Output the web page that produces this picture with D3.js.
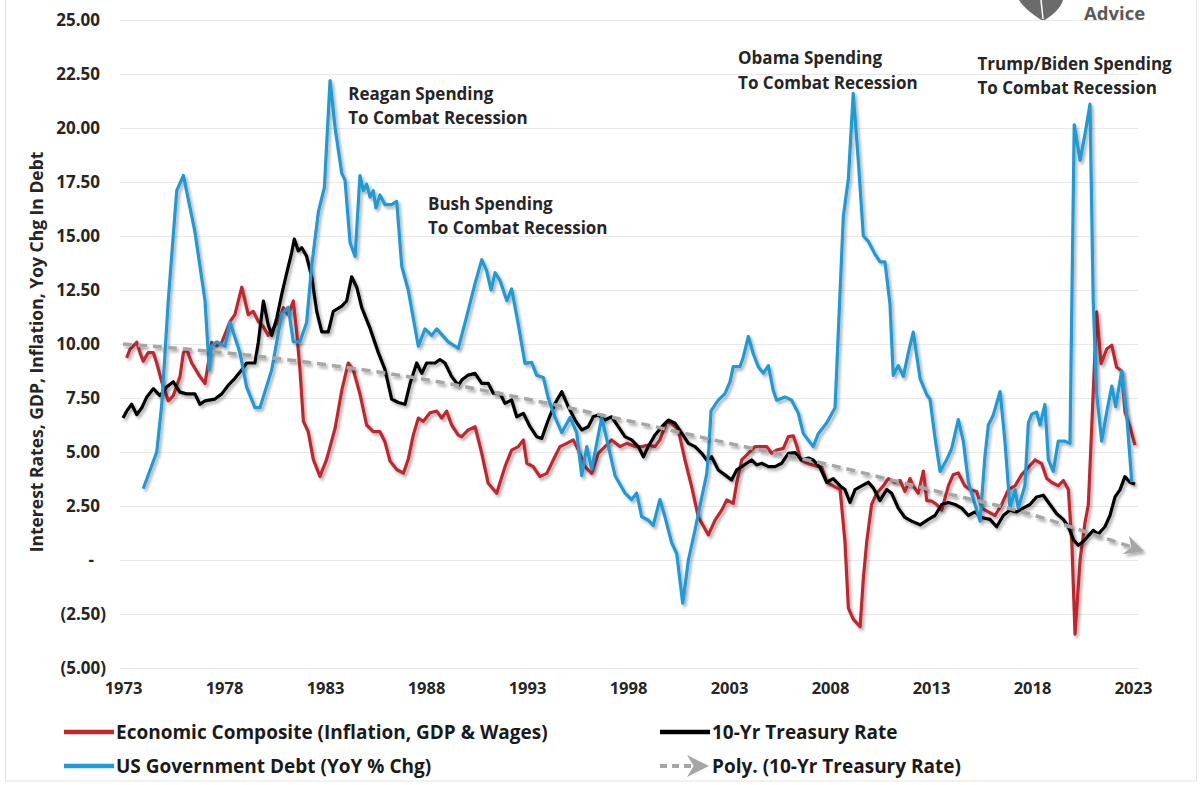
<!DOCTYPE html>
<html>
<head>
<meta charset="utf-8">
<script src="https://cdn.jsdelivr.net/npm/d3@7"></script>
<style>
  body { margin: 0; background: #fff; }
  text { font-family: "Open Sans", "Noto Sans", sans-serif; font-weight: 700; }
</style>
</head>
<body>
<svg id="chart" width="1203" height="785"></svg>
<script>
// tick values
var yearTicks = [1973, 1978, 1983, 1988, 1993, 1998, 2003, 2008, 2013, 2018, 2023];
var valueTicks = [-5, -2.5, 0, 2.5, 5, 7.5, 10, 12.5, 15, 17.5, 20, 22.5, 25];

// Economic Composite (Inflation, GDP & Wages) - [year, value]
var compositeData = [
  [1973.18,9.36],[1973.35,9.76],[1973.68,10.08],[1973.84,9.6],[1974.0,9.2],[1974.25,9.6],[1974.5,9.6],[1974.67,9.12],
  [1974.92,8.25],[1975.24,7.37],[1975.49,7.61],[1975.82,8.49],[1975.99,9.6],[1976.15,9.76],[1976.4,9.12],[1976.81,8.49],
  [1977.06,8.17],[1977.39,10.08],[1977.64,9.92],[1977.89,10.08],[1978.3,11.04],[1978.54,11.36],[1978.88,12.63],[1979.2,11.36],
  [1979.45,11.51],[1979.7,11.04],[1979.95,10.8],[1980.19,10.4],[1980.44,10.72],[1980.69,11.04],[1980.94,11.68],[1981.18,11.36],
  [1981.43,11.99],[1981.6,10.56],[1981.76,8.81],[1981.93,6.42],[1982.17,5.94],[1982.42,4.66],[1982.75,3.87],[1983.08,4.66],
  [1983.5,6.1],[1983.83,7.85],[1984.15,9.12],[1984.4,8.81],[1984.73,7.69],[1985.06,6.25],[1985.39,5.94],[1985.72,5.94],
  [1985.97,5.46],[1986.22,4.58],[1986.55,4.19],[1986.88,4.02],[1987.12,4.66],[1987.37,5.78],[1987.62,6.57],[1987.87,6.42],
  [1988.2,6.82],[1988.53,6.89],[1988.78,6.57],[1989.02,6.89],[1989.27,6.25],[1989.6,5.78],[1989.77,5.71],[1990.09,6.02],
  [1990.43,6.17],[1990.76,4.94],[1991.08,3.55],[1991.5,3.09],[1991.91,4.32],[1992.24,5.09],[1992.57,5.25],[1992.82,5.56],
  [1992.99,4.48],[1993.31,4.32],[1993.64,3.86],[1993.98,4.01],[1994.3,4.63],[1994.63,5.25],[1994.97,5.4],[1995.29,5.56],
  [1995.54,5.09],[1995.87,4.32],[1996.2,4.01],[1996.53,4.94],[1996.86,5.25],[1997.19,5.56],[1997.6,5.25],[1997.94,5.4],
  [1998.35,5.25],[1998.68,5.25],[1999.0,5.32],[1999.34,5.25],[1999.58,5.56],[1999.92,6.4],[2000.16,6.33],[2000.49,6.02],
  [2000.82,4.63],[2001.15,3.4],[2001.48,2.0],[2001.98,1.16],[2002.31,1.85],[2002.64,2.31],[2002.89,2.78],[2003.21,2.62],
  [2003.38,3.55],[2003.63,4.63],[2003.96,4.94],[2004.29,5.25],[2004.87,5.25],[2005.11,4.94],[2005.36,5.09],[2005.69,5.17],
  [2005.94,5.71],[2006.18,5.75],[2006.35,5.3],[2006.55,4.63],[2006.93,4.46],[2007.26,4.37],[2007.59,4.29],[2007.84,3.6],
  [2008.16,3.43],[2008.5,3.26],[2008.74,0.86],[2008.91,-2.23],[2009.15,-2.74],[2009.49,-3.09],[2009.65,-0.86],[2009.82,0.86],
  [2010.06,2.57],[2010.31,3.09],[2010.64,3.43],[2010.89,3.77],[2011.22,3.6],[2011.47,3.68],[2011.71,3.17],[2011.96,3.77],
  [2012.12,3.43],[2012.37,3.09],[2012.62,4.12],[2012.79,2.75],[2013.03,2.73],[2013.28,2.57],[2013.53,2.31],[2013.86,3.43],
  [2014.1,3.95],[2014.35,4.03],[2014.68,3.43],[2014.93,3.26],[2015.26,3.17],[2015.51,2.4],[2015.84,2.23],[2016.17,2.06],
  [2016.5,2.57],[2016.83,3.26],[2017.16,3.43],[2017.49,3.95],[2017.82,4.29],[2018.15,4.63],[2018.48,4.46],[2018.73,3.77],
  [2018.97,3.6],[2019.3,3.43],[2019.55,3.68],[2019.8,3.26],[2019.97,0.86],[2020.13,-3.43],[2020.38,0.0],[2020.62,1.71],
  [2020.79,2.57],[2021.03,7.72],[2021.2,11.49],[2021.42,9.09],[2021.7,9.77],[2021.95,9.94],[2022.19,8.92],[2022.44,8.75],
  [2022.6,6.86],[2022.85,6.17],[2023.1,5.32]
];

// 10-Yr Treasury Rate - [year, value]
var treasuryData = [
  [1973.0,6.57],[1973.18,6.89],[1973.43,7.21],[1973.68,6.73],[1973.93,7.05],[1974.17,7.53],[1974.5,7.93],[1974.83,7.61],
  [1975.16,8.01],[1975.49,8.25],[1975.82,7.77],[1976.15,7.69],[1976.56,7.69],[1976.81,7.21],[1977.06,7.37],[1977.55,7.45],
  [1977.89,7.69],[1978.21,8.09],[1978.54,8.41],[1978.88,8.81],[1979.12,9.12],[1979.53,9.12],[1979.7,10.08],[1979.95,11.99],
  [1980.19,10.88],[1980.36,10.4],[1980.61,11.2],[1980.86,12.31],[1981.1,13.27],[1981.35,14.23],[1981.48,14.86],[1981.68,14.31],
  [1981.85,14.46],[1982.09,14.06],[1982.34,13.11],[1982.59,11.51],[1982.84,10.56],[1983.16,10.56],[1983.41,11.51],[1983.83,11.75],
  [1984.07,11.99],[1984.32,13.11],[1984.57,12.63],[1984.82,11.68],[1985.23,10.72],[1985.64,9.6],[1985.97,8.81],[1986.3,7.45],
  [1986.63,7.29],[1986.96,7.21],[1987.21,8.17],[1987.54,9.12],[1987.79,8.64],[1988.03,9.12],[1988.45,9.12],[1988.69,9.28],
  [1988.94,9.12],[1989.27,8.49],[1989.6,8.09],[1989.77,8.33],[1990.09,8.56],[1990.43,8.64],[1990.76,8.18],[1991.08,8.18],
  [1991.33,7.72],[1991.66,7.72],[1991.91,7.25],[1992.24,7.41],[1992.49,6.63],[1992.82,6.79],[1993.15,6.17],[1993.48,5.71],
  [1993.73,5.63],[1994.05,6.48],[1994.39,7.25],[1994.72,7.79],[1995.04,7.1],[1995.38,6.48],[1995.71,6.02],[1996.03,6.17],
  [1996.28,6.63],[1996.53,6.71],[1996.86,6.48],[1997.19,6.63],[1997.52,6.17],[1997.85,5.71],[1998.18,5.56],[1998.51,5.25],
  [1998.76,4.78],[1999.0,5.25],[1999.34,5.79],[1999.67,6.17],[2000.0,6.48],[2000.33,6.33],[2000.66,5.87],[2000.99,5.4],
  [2001.32,5.25],[2001.65,4.94],[2001.9,4.63],[2002.14,4.78],[2002.47,4.17],[2002.8,3.94],[2003.13,3.7],[2003.38,4.17],
  [2003.63,4.32],[2004.12,4.63],[2004.37,4.4],[2004.62,4.48],[2004.95,4.32],[2005.28,4.32],[2005.61,4.48],[2005.94,4.94],
  [2006.27,4.97],[2006.6,4.63],[2006.93,4.72],[2007.17,4.63],[2007.5,4.29],[2007.84,3.6],[2008.16,3.77],[2008.5,3.43],
  [2008.74,3.26],[2008.99,2.66],[2009.24,3.26],[2009.57,3.43],[2009.9,3.6],[2010.14,3.34],[2010.47,2.75],[2010.81,3.26],
  [2011.05,3.09],[2011.38,2.4],[2011.71,1.97],[2012.04,1.8],[2012.46,1.63],[2012.87,1.88],[2013.2,2.06],[2013.53,2.57],
  [2013.86,2.66],[2014.19,2.57],[2014.52,2.4],[2014.85,2.06],[2015.18,2.23],[2015.51,1.97],[2015.92,1.88],[2016.25,1.54],
  [2016.58,2.06],[2016.91,2.31],[2017.24,2.23],[2017.57,2.4],[2017.9,2.57],[2018.23,2.92],[2018.56,3.0],[2018.89,2.57],
  [2019.22,2.14],[2019.55,1.88],[2019.8,1.54],[2020.05,0.94],[2020.29,0.68],[2020.54,0.86],[2020.79,1.12],[2021.03,1.37],
  [2021.28,1.2],[2021.61,1.54],[2021.86,2.06],[2022.11,2.92],[2022.36,3.26],[2022.6,3.86],[2022.85,3.6],[2023.1,3.51]
];

// US Government Debt (YoY % Chg) - [year, value]
var debtData = [
  [1974.0,3.3],[1974.67,5.0],[1974.92,7.2],[1975.24,12.0],[1975.66,17.1],[1975.99,17.8],[1976.56,15.2],[1977.06,12.0],
  [1977.27,8.8],[1977.39,9.9],[1977.64,10.1],[1978.05,9.9],[1978.3,11.0],[1978.79,9.6],[1979.12,8.0],[1979.53,7.05],
  [1979.78,7.05],[1980.36,8.8],[1980.86,11.4],[1981.18,11.7],[1981.43,10.1],[1981.76,10.1],[1982.09,11.0],[1982.34,13.6],
  [1982.67,16.1],[1982.97,17.25],[1983.25,22.2],[1983.5,20.0],[1983.83,17.9],[1983.99,17.6],[1984.24,14.7],[1984.49,14.05],
  [1984.73,17.8],[1984.9,17.1],[1985.06,17.4],[1985.23,16.8],[1985.39,17.1],[1985.52,16.3],[1985.72,16.9],[1985.97,16.45],
  [1986.3,16.45],[1986.55,16.6],[1986.8,13.6],[1987.12,12.5],[1987.62,9.9],[1987.95,10.7],[1988.28,10.4],[1988.53,10.7],
  [1989.1,10.1],[1989.6,9.8],[1990.02,11.3],[1990.43,12.8],[1990.76,13.9],[1991.0,13.4],[1991.22,12.5],[1991.42,13.3],
  [1991.66,12.95],[1992.0,12.0],[1992.24,12.55],[1992.57,10.9],[1992.9,9.1],[1993.23,9.15],[1993.48,8.55],[1993.81,8.45],
  [1994.05,7.5],[1994.39,6.6],[1994.72,5.9],[1995.13,6.6],[1995.46,5.9],[1995.71,3.9],[1995.96,5.25],[1996.2,4.2],
  [1996.7,6.6],[1997.02,5.3],[1997.36,3.9],[1997.85,3.1],[1998.18,2.8],[1998.43,3.1],[1998.68,2.0],[1999.0,1.85],
  [1999.25,1.6],[1999.58,2.8],[1999.83,2.0],[2000.16,0.8],[2000.41,0.3],[2000.71,-2.0],[2000.99,0.0],[2001.32,1.4],
  [2001.65,2.9],[2001.9,4.0],[2002.01,5.25],[2002.11,6.9],[2002.47,7.4],[2002.8,7.7],[2003.05,8.25],[2003.21,8.95],
  [2003.54,8.95],[2003.71,9.4],[2003.96,10.35],[2004.2,9.55],[2004.45,8.95],[2004.7,8.65],[2004.95,9.0],[2005.19,7.85],
  [2005.36,7.4],[2005.77,7.55],[2006.1,7.4],[2006.43,6.8],[2006.68,5.85],[2007.17,5.25],[2007.42,5.85],[2007.84,6.35],
  [2008.25,7.05],[2008.66,15.9],[2008.91,17.65],[2009.15,21.6],[2009.4,18.5],[2009.65,15.0],[2009.9,14.75],[2010.23,14.15],
  [2010.48,13.8],[2010.72,13.8],[2010.97,11.85],[2011.13,8.55],[2011.38,9.0],[2011.63,8.5],[2011.88,9.6],[2012.12,10.55],
  [2012.46,8.4],[2012.79,7.65],[2012.95,7.45],[2013.2,5.65],[2013.45,4.1],[2013.78,4.65],[2014.02,5.15],[2014.35,6.5],
  [2014.6,5.5],[2014.85,3.6],[2015.09,2.85],[2015.43,1.8],[2015.67,4.8],[2015.84,6.25],[2016.08,6.7],[2016.42,7.8],
  [2016.66,5.5],[2016.91,2.4],[2017.16,3.25],[2017.32,2.4],[2017.65,3.45],[2017.82,6.35],[2017.99,6.75],[2018.23,6.85],
  [2018.4,6.25],[2018.64,7.2],[2018.81,4.65],[2019.05,4.1],[2019.3,5.5],[2019.63,5.5],[2019.88,5.4],[2020.09,20.15],
  [2020.38,18.5],[2020.62,19.7],[2020.87,21.1],[2021.03,12.0],[2021.2,7.7],[2021.45,5.5],[2021.7,6.85],[2021.95,8.05],
  [2022.14,7.1],[2022.44,8.75],[2022.69,6.7],[2022.94,3.6]
];

// Poly. (10-Yr Treasury Rate) trend line
var trendData = [
  [1973,10.0],[1978,9.6],[1983,9.05],[1988,8.35],[1993,7.45],[1998,6.45],[2003,5.4],
  [2008,4.4],[2013,3.25],[2018,2.1],[2021,1.2],[2023.1,0.55]
];

var annotations = [
  { lines: ["Reagan Spending", "To Combat Recession"], year: 1984.15, value: 21.3 },
  { lines: ["Bush Spending", "To Combat Recession"], year: 1988.1, value: 16.2 },
  { lines: ["Obama Spending", "To Combat Recession"], year: 2003.45, value: 22.95 },
  { lines: ["Trump/Biden Spending", "To Combat Recession"], year: 2015.3, value: 22.7 }
];

var legendItems = [
  { label: "Economic Composite (Inflation, GDP & Wages)", color: "#c0272d", dash: null },
  { label: "10-Yr Treasury Rate", color: "#000000", dash: null },
  { label: "US Government Debt (YoY % Chg)", color: "#1f9bd7", dash: null },
  { label: "Poly. (10-Yr Treasury Rate)", color: "#a6a6a6", dash: "7,5" }
];

var svg = d3.select("#chart");

var x = d3.scaleLinear().domain([1973, 2023]).range([123, 1133]);
var y = d3.scaleLinear().domain([-5, 25]).range([668, 20]);

var defs = svg.append("defs");
var shadow = defs.append("filter").attr("id", "shadow")
    .attr("x", "-5%").attr("y", "-5%").attr("width", "110%").attr("height", "110%");
shadow.append("feDropShadow")
    .attr("dx", 2).attr("dy", 2.5).attr("stdDeviation", 1.6)
    .attr("flood-color", "#000").attr("flood-opacity", 0.33);

defs.append("marker").attr("id", "arrow")
    .attr("viewBox", "0 0 10 10").attr("refX", 5).attr("refY", 5)
    .attr("markerWidth", 5.5).attr("markerHeight", 5.5).attr("orient", "auto")
    .attr("markerUnits", "strokeWidth")
    .append("path").attr("d", "M0,0 L10,5 L0,10 L3,5 Z").attr("fill", "#a6a6a6");

// outer frame
svg.append("rect").attr("x", 5.5).attr("y", -2).attr("width", 1191).attr("height", 783)
    .attr("fill", "none").attr("stroke", "#e4e4e4");

// logo fragment top right
svg.append("path")
    .attr("d", "M1019,0 L1063,0 C1061,8 1052,16 1043,21 C1033,15 1024,8 1019,0 Z")
    .attr("fill", "#6b6b6b");
svg.append("path").attr("d", "M1041,0 L1043,19").attr("stroke", "#fff").attr("stroke-width", 1.5);
svg.append("text").attr("x", 1084).attr("y", 20).attr("font-size", 18.5)
    .attr("fill", "#5a5a5a").text("Advice");

// gridlines
svg.append("g").selectAll("line").data(valueTicks).enter().append("line")
    .attr("x1", 120).attr("x2", 1138)
    .attr("y1", function(d) { return Math.round(y(d)) + 0.5; })
    .attr("y2", function(d) { return Math.round(y(d)) + 0.5; })
    .attr("stroke", "#e8e8e8").attr("stroke-width", 1);

// y axis labels (accounting style)
function fmtValue(d) {
    if (d === 0) return "-";
    if (d < 0) return "(" + d3.format(".2f")(-d) + ")";
    return d3.format(".2f")(d);
}
var yAxis = d3.axisLeft(y).tickValues(valueTicks).tickSize(0).tickFormat(fmtValue);
svg.append("g").attr("transform", "translate(100,0)").call(yAxis)
    .call(function(g) { g.select(".domain").remove(); })
    .call(function(g) {
        g.selectAll("text")
            .attr("x", function(d) { return d < 0 ? 6 : (d === 0 ? -6 : 0); })
            .attr("font-size", 17).attr("fill", "#262626")
            .style("font-family", "'Open Sans', sans-serif").style("font-weight", 700);
    });

// x axis labels
var xAxis = d3.axisBottom(x).tickValues(yearTicks).tickSize(0).tickFormat(d3.format("d"));
svg.append("g").attr("transform", "translate(0,682)").call(xAxis)
    .call(function(g) { g.select(".domain").remove(); })
    .call(function(g) {
        g.selectAll("text").attr("dy", "0.71em").attr("y", 0)
            .attr("font-size", 16.5).attr("fill", "#262626")
            .style("font-family", "'Open Sans', sans-serif").style("font-weight", 700);
    });

// y axis title
svg.append("text")
    .attr("transform", "translate(43,352) rotate(-90)")
    .attr("text-anchor", "middle").attr("font-size", 17.5).attr("fill", "#262626")
    .text("Interest Rates, GDP, Inflation, Yoy Chg In Debt");

var line = d3.line()
    .x(function(d) { return x(d[0]); })
    .y(function(d) { return y(d[1]); });

var series = [
    { data: compositeData, color: "#c0272d" },
    { data: treasuryData, color: "#000000" },
    { data: debtData, color: "#1f9bd7" }
];

svg.append("g").selectAll("path").data(series).enter().append("path")
    .attr("d", function(d) { return line(d.data); })
    .attr("fill", "none")
    .attr("stroke", function(d) { return d.color; })
    .attr("stroke-width", 3.2)
    .attr("stroke-linejoin", "round")
    .attr("filter", "url(#shadow)");

// polynomial trend
var trendLine = d3.line().curve(d3.curveMonotoneX)
    .x(function(d) { return x(d[0]); })
    .y(function(d) { return y(d[1]); });
svg.append("path")
    .attr("d", trendLine(trendData))
    .attr("fill", "none").attr("stroke", "#a6a6a6").attr("stroke-width", 3.5)
    .attr("stroke-dasharray", "9,6").attr("marker-end", "url(#arrow)")
    .attr("filter", "url(#shadow)");

// annotations
annotations.forEach(function(a) {
    var t = svg.append("text")
        .attr("x", x(a.year)).attr("y", y(a.value))
        .attr("font-size", 17).attr("fill", "#262626");
    a.lines.forEach(function(s, i) {
        t.append("tspan").attr("x", x(a.year)).attr("dy", i === 0 ? 0 : 24.3).text(s);
    });
});

// legend
var legend = svg.append("g");
legendItems.forEach(function(item, i) {
    var col = i % 2, row = Math.floor(i / 2);
    var lx = col === 0 ? 64 : 660;
    var ly = row === 0 ? 732 : 766;
    var g = legend.append("g").attr("transform", "translate(" + lx + "," + ly + ")");
    if (item.dash) {
        g.append("line").attr("x1", 0).attr("x2", 38).attr("y1", 0).attr("y2", 0)
            .attr("stroke", item.color).attr("stroke-width", 4).attr("stroke-dasharray", item.dash)
            .attr("marker-end", "url(#arrow)");
    } else {
        g.append("line").attr("x1", 0).attr("x2", 50).attr("y1", 0).attr("y2", 0)
            .attr("stroke", item.color).attr("stroke-width", 4.5);
    }
    g.append("text").attr("x", 52).attr("y", 0).attr("dy", "0.35em")
        .attr("font-size", 19).attr("fill", "#1a1a1a")
        .text(item.label);
});
</script>
</body>
</html>
